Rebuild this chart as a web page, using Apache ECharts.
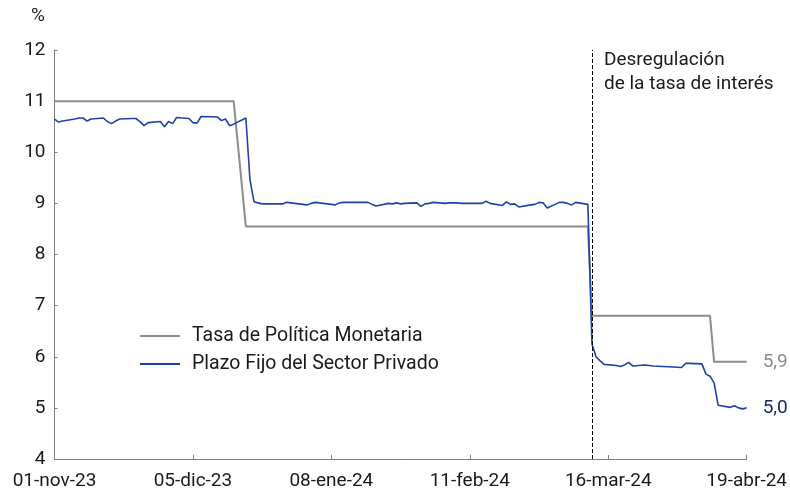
<!DOCTYPE html>
<html>
<head>
<meta charset="utf-8">
<script src="https://cdn.jsdelivr.net/npm/echarts@6/dist/echarts.min.js"></script>
<style>
html,body{margin:0;padding:0;background:#fff;}
#c{width:790px;height:491px;}
</style>
</head>
<body>
<div id="c"></div>
<script>
// ---- data ----
const startDate = '2023-11-01';
const endDate = '2024-04-19';
const tickLabels = ['01-nov-23','05-dic-23','08-ene-24','11-feb-24','16-mar-24','19-abr-24'];
const eventDate = '2024-03-12';
const eventText = 'Desregulación\nde la tasa de interés';
const seriesNames = ['Tasa de Política Monetaria','Plazo Fijo del Sector Privado'];

const policyDates = ['2023-11-01','2023-12-15','2023-12-18','2024-03-11','2024-03-12','2024-04-10','2024-04-11','2024-04-19'];
const policyValues = [11.0, 11.0, 8.55, 8.55, 6.8, 6.8, 5.9, 5.9];

const depositDates = [
'2023-11-01','2023-11-02','2023-11-03','2023-11-06','2023-11-07','2023-11-08','2023-11-09','2023-11-10',
'2023-11-13','2023-11-14','2023-11-15','2023-11-16','2023-11-17','2023-11-20','2023-11-21','2023-11-22',
'2023-11-23','2023-11-24','2023-11-27','2023-11-28','2023-11-29','2023-11-30','2023-12-01','2023-12-04',
'2023-12-05','2023-12-06','2023-12-07','2023-12-11','2023-12-12','2023-12-13','2023-12-14','2023-12-15',
'2023-12-18','2023-12-19','2023-12-20','2023-12-21','2023-12-22','2023-12-26','2023-12-27','2023-12-28',
'2023-12-29','2024-01-02','2024-01-03','2024-01-04','2024-01-05','2024-01-08','2024-01-09','2024-01-10',
'2024-01-11','2024-01-12','2024-01-15','2024-01-16','2024-01-17','2024-01-18','2024-01-19','2024-01-22',
'2024-01-23','2024-01-24','2024-01-25','2024-01-26','2024-01-29','2024-01-30','2024-01-31','2024-02-01',
'2024-02-02','2024-02-05','2024-02-06','2024-02-07','2024-02-08','2024-02-09','2024-02-14','2024-02-15',
'2024-02-16','2024-02-19','2024-02-20','2024-02-21','2024-02-22','2024-02-23','2024-02-26','2024-02-27',
'2024-02-28','2024-02-29','2024-03-01','2024-03-04','2024-03-05','2024-03-06','2024-03-07','2024-03-08',
'2024-03-11','2024-03-12','2024-03-13','2024-03-14','2024-03-15','2024-03-18','2024-03-19','2024-03-20',
'2024-03-21','2024-03-22','2024-03-25','2024-03-26','2024-03-27','2024-04-01','2024-04-03','2024-04-04',
'2024-04-05','2024-04-08','2024-04-09','2024-04-10','2024-04-11','2024-04-12','2024-04-15','2024-04-16',
'2024-04-17','2024-04-18','2024-04-19'
];
const depositValues = [
10.65,10.59,10.61,10.65,10.67,10.67,10.61,10.65,
10.67,10.60,10.56,10.61,10.65,10.66,10.66,10.60,
10.52,10.58,10.60,10.50,10.60,10.56,10.68,10.66,
10.58,10.57,10.70,10.69,10.62,10.65,10.52,10.55,
10.67,9.47,9.03,9.01,8.99,8.99,8.99,9.02,
9.01,8.97,9.00,9.02,9.01,8.98,8.97,9.01,
9.02,9.02,9.02,9.02,9.02,8.98,8.95,9.00,
8.99,9.01,8.99,9.00,9.01,8.94,8.99,9.00,
9.02,9.00,9.01,9.01,9.01,9.00,9.00,9.04,
9.00,8.96,9.03,8.98,8.99,8.93,8.97,8.98,
9.02,9.01,8.91,9.02,9.02,9.00,8.97,9.02,
8.98,6.25,6.00,5.92,5.85,5.83,5.81,5.84,
5.89,5.82,5.84,5.83,5.82,5.80,5.79,5.87,
5.87,5.86,5.66,5.62,5.49,5.05,5.01,5.04,
5.00,4.98,5.00
];

// ---- helpers ----
const DAY = 86400000;
const t0 = Date.parse(startDate);
const dayOf = d => Math.round((Date.parse(d) - t0) / DAY);
const xMax = dayOf(endDate);
const tickStep = xMax / (tickLabels.length - 1);
const fmt = v => v.toFixed(1).replace('.', ',');

const policyData = policyDates.map((d, i) => [dayOf(d), policyValues[i]]);
const depositData = depositDates.map((d, i) => [dayOf(d), depositValues[i]]);

const FONT = 'Roboto';
const FS = 19;
const GRAY = '#8c8c8c';
const BLUE = '#1d43a6';
const TXT = '#1a1a1a';

const chart = echarts.init(document.getElementById('c'), null, {renderer: 'canvas'});
chart.setOption({
  animation: false,
  backgroundColor: '#fff',
  textStyle: {fontFamily: FONT},
  grid: {left: 54.5, right: 41.5, top: 50, bottom: 31, containLabel: false},
  legend: {
    orient: 'vertical',
    left: 135, top: 321,
    itemWidth: 40, itemHeight: 2, itemGap: 8,
    icon: 'rect',
    textStyle: {fontFamily: FONT, fontSize: 19.5, color: TXT, padding: [0, 0, 0, 7]},
    data: seriesNames
  },
  xAxis: {
    type: 'value',
    min: 0, max: xMax, interval: tickStep,
    axisLine: {lineStyle: {color: '#7f7f7f', width: 1}},
    axisTick: {show: true, inside: true, length: 4, lineStyle: {color: '#7f7f7f'}},
    splitLine: {show: false},
    axisLabel: {
      fontFamily: FONT, fontSize: FS, color: TXT, margin: 13,
      formatter: v => tickLabels[Math.round(v / tickStep)] || ''
    }
  },
  yAxis: {
    type: 'value',
    min: 4, max: 12, interval: 1,
    axisLine: {show: true, lineStyle: {color: '#7f7f7f', width: 1}},
    axisTick: {show: true, inside: true, length: 3, lineStyle: {color: '#7f7f7f'}},
    splitLine: {show: false},
    axisLabel: {fontFamily: FONT, fontSize: FS, color: TXT, margin: 9}
  },
  graphic: [
    {type: 'text', left: 31, top: 7, style: {text: '%', font: '19px ' + FONT, fill: TXT}},
    {type: 'text', left: 604, top: 48, style: {text: eventText, font: '19px ' + FONT, fill: TXT, lineHeight: 24}}
  ],
  series: [
    {
      name: seriesNames[0], type: 'line', data: policyData,
      symbol: 'none', color: GRAY,
      lineStyle: {color: GRAY, width: 2},
      endLabel: {show: true, formatter: p => fmt(p.value[1]), color: GRAY, fontFamily: FONT, fontSize: FS, distance: 16},
      z: 2
    },
    {
      name: seriesNames[1], type: 'line', data: depositData,
      symbol: 'none', color: BLUE,
      lineStyle: {color: BLUE, width: 1.6},
      endLabel: {show: true, formatter: p => fmt(p.value[1]), color: '#13296b', fontFamily: FONT, fontSize: FS, distance: 16},
      markLine: {
        silent: true, symbol: ['none', 'none'],
        label: {show: false},
        lineStyle: {color: '#000', type: [4, 2], width: 1},
        data: [{xAxis: dayOf(eventDate)}]
      },
      z: 3
    }
  ]
});
</script>
</body>
</html>
